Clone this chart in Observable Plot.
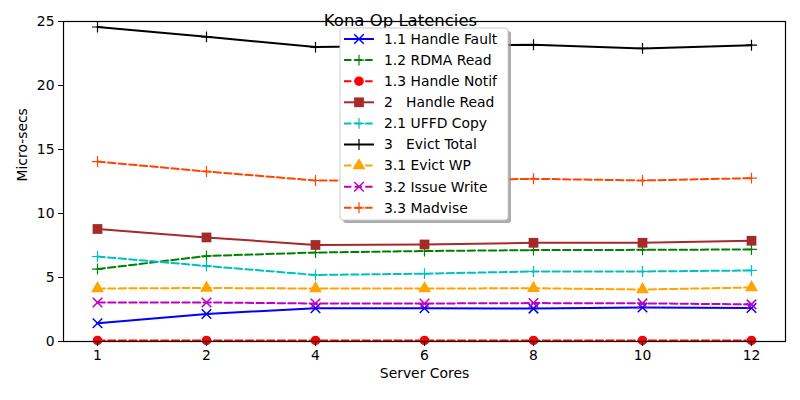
<!DOCTYPE html>
<html><head><meta charset="utf-8">
<script src="https://cdn.jsdelivr.net/npm/d3@7"></script>
<script src="https://cdn.jsdelivr.net/npm/@observablehq/plot@0.6"></script>
<style>
body{margin:0;background:#fff;}
#chart{position:relative;width:800px;height:400px;font-family:"DejaVu Sans",sans-serif;}
</style></head>
<body><div id="chart"></div>
<script>
const title = "Kona Op Latencies";
const xLabel = "Server Cores";
const yLabel = "Micro-secs";
const cores = ["1","2","4","6","8","10","12"];
const yTicks = [0,5,10,15,20,25];

const seriesNames = ["1.1 Handle Fault","1.2 RDMA Read","1.3 Handle Notif","2   Handle Read","2.1 UFFD Copy","3   Evict Total","3.1 Evict WP","3.2 Issue Write","3.3 Madvise"];
const handleFault = [1.42, 2.15, 2.6, 2.6, 2.57, 2.66, 2.62];
const rdmaRead    = [5.66, 6.68, 6.95, 7.07, 7.14, 7.16, 7.19];
const handleNotif = [0.08, 0.08, 0.08, 0.08, 0.08, 0.08, 0.08];
const handleRead  = [8.79, 8.13, 7.54, 7.58, 7.71, 7.71, 7.87];
const uffdCopy    = [6.64, 5.9, 5.2, 5.3, 5.47, 5.47, 5.55];
const evictTotal  = [24.57, 23.8, 23.0, 23.1, 23.18, 22.9, 23.15];
const evictWP     = [4.14, 4.18, 4.14, 4.14, 4.16, 4.06, 4.22];
const issueWrite  = [3.05, 3.05, 2.97, 2.97, 3.0, 2.98, 2.9];
const madvise     = [14.06, 13.28, 12.58, 12.55, 12.71, 12.58, 12.76];

const seriesValues = [handleFault, rdmaRead, handleNotif, handleRead, uffdCopy, evictTotal, evictWP, issueWrite, madvise];
const seriesColors = ["#0000ff","#008000","#ff0000","#a52a2a","#00bfbf","#000000","#ffa500","#bf00bf","#ff4500"];
const seriesSymbols = ["times","plus","circle","square","plus","plus","triangle","times","plus"];
const seriesDashed = [false,true,true,false,true,false,true,true,true];

const symbolMap = {times: d3.symbolTimes, plus: d3.symbolPlus, circle: d3.symbolCircle, square: d3.symbolSquare, triangle: d3.symbolTriangle};
const filled = s => s==="circle"||s==="square"||s==="triangle";
const symR = s => s==="circle"?4.8:s==="square"?5.5:s==="triangle"?4.8:s==="plus"?3.6:4.4;
const dash = "7.4,3.2";

const marks = [];
seriesNames.forEach((name,i)=>{
  const data = cores.map((c,j)=>({x:c,y:seriesValues[i][j]}));
  marks.push(Plot.line(data,{x:"x",y:"y",stroke:seriesColors[i],strokeWidth:2,strokeDasharray:seriesDashed[i]?dash:null}));
  const s = seriesSymbols[i];
  marks.push(Plot.dot(data,{x:"x",y:"y",symbol:()=>s,r:symR(s),
    fill:filled(s)?seriesColors[i]:"none",stroke:filled(s)?"none":seriesColors[i],strokeWidth:s==="plus"?1.2:1.5}));
});

const chart = Plot.plot({
  width:800,height:400,
  marginLeft:63,marginRight:15,marginTop:21,marginBottom:59,
  style:{fontFamily:"DejaVu Sans",fontSize:"13.9px",color:"#000",background:"#fff"},
  x:{type:"point",domain:cores,padding:0.3},
  y:{domain:[0,25]},
  symbol:{type:"identity"},
  marks:[
    ...marks,
    Plot.frame({stroke:"#000",strokeWidth:1.2}),
    Plot.axisX({ticks:cores,tickSize:5,tickPadding:4,label:null,fontSize:13.9}),
    Plot.axisY({ticks:yTicks,tickSize:5,tickPadding:4,label:null,fontSize:13.9}),
    Plot.text([title],{frameAnchor:"top",dy:-7,dx:-24,fontSize:16.5,fill:"#000"}),
    Plot.text([xLabel],{frameAnchor:"bottom",dy:36,fontSize:13.9,fill:"#000"}),
    Plot.text([yLabel],{frameAnchor:"left",dx:-41,rotate:-90,fontSize:13.9,fill:"#000"})
  ]
});
document.getElementById("chart").appendChild(chart);

// legend
const svg = d3.select(chart);
const lg = svg.append("g").attr("transform","translate(340,28)").attr("text-anchor","start");
const lw=168, lh=192;
lg.append("rect").attr("x",3).attr("y",3).attr("width",lw).attr("height",lh).attr("rx",3).attr("fill","#888").attr("opacity",0.7);
lg.append("rect").attr("width",lw).attr("height",lh).attr("rx",3).attr("fill","#fff").attr("stroke","#ccc");
seriesNames.forEach((name,i)=>{
  const y = 11 + i*21.1;
  const g = lg.append("g").attr("transform",`translate(0,${y})`);
  g.append("line").attr("x1",4).attr("x2",34).attr("y1",0).attr("y2",0).attr("stroke",seriesColors[i]).attr("stroke-width",2)
    .attr("stroke-dasharray",seriesDashed[i]?dash:null);
  const s = seriesSymbols[i];
  const r = symR(s);
  g.append("path").attr("transform","translate(19,0)").attr("d",d3.symbol(symbolMap[s],Math.PI*r*r)())
    .attr("fill",filled(s)?seriesColors[i]:"none").attr("stroke",filled(s)?"none":seriesColors[i]).attr("stroke-width",s==="plus"?1.2:1.5);
  g.append("text").attr("x",44).attr("y",0).attr("dy","0.35em").attr("font-size",13.9).attr("fill","#000")
    .attr("text-anchor","start").style("white-space","pre").attr("xml:space","preserve").text(name);
});
</script></body></html>
